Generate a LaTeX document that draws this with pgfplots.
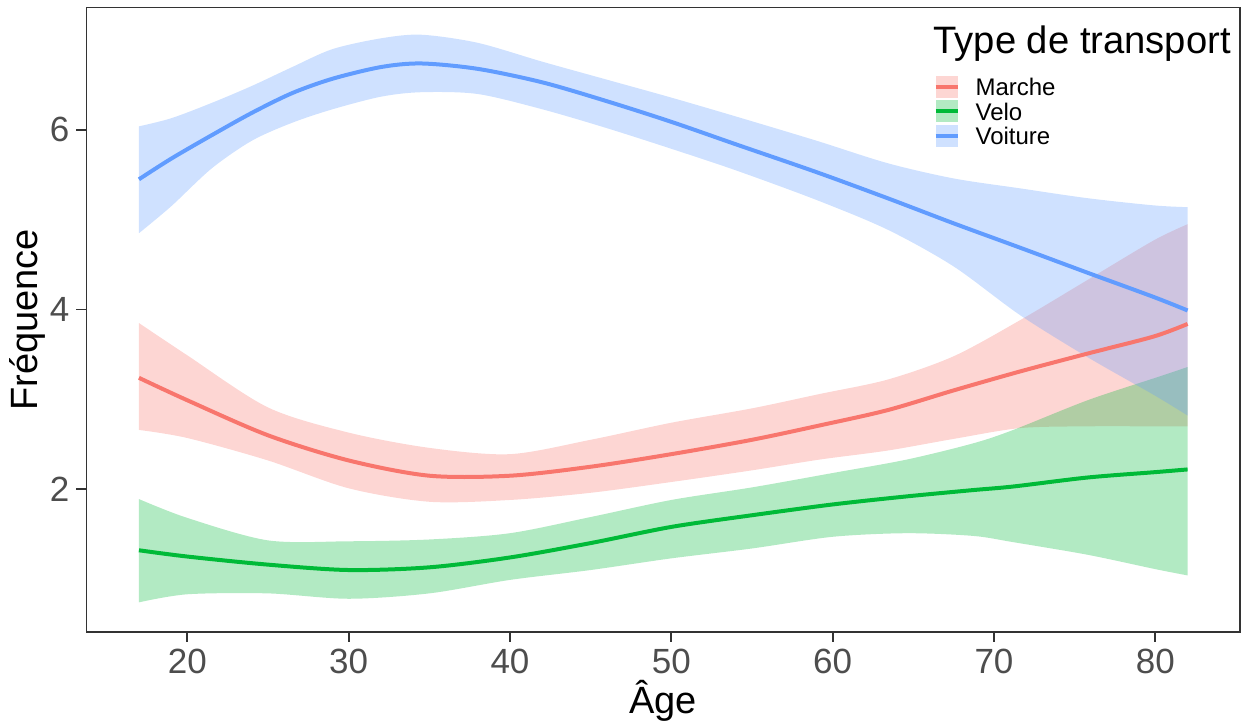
\documentclass[border=0pt]{standalone}
\usepackage{fontspec}
\setmainfont{Liberation Sans}
\usepackage{pgfplots}
\usepackage{pgfplotstable}
\pgfplotsset{compat=1.18}
\usepgfplotslibrary{fillbetween}

\definecolor{cMarche}{HTML}{F8766D}
\definecolor{cVelo}{HTML}{00BA38}
\definecolor{cVoiture}{HTML}{619CFF}
\definecolor{gtick}{HTML}{4D4D4D}
\definecolor{gline}{HTML}{333333}

% loess fits: age, fit, lower, upper
\pgfplotstableread{
age fit lo hi
17 3.24 2.66 3.85
20 2.99 2.57 3.49
25 2.60 2.32 2.91
30 2.32 2.01 2.63
35 2.15 1.86 2.46
40 2.15 1.88 2.39
45 2.25 1.96 2.55
50 2.39 2.08 2.74
55 2.55 2.21 2.90
59.2 2.71 2.33 3.06
63.4 2.88 2.43 3.22
67.5 3.10 2.56 3.48
71.6 3.31 2.68 3.88
75.8 3.51 2.70 4.33
79.9 3.70 2.70 4.77
82 3.84 2.70 4.95
}\marche

\pgfplotstableread{
age fit lo hi
17 1.32 0.74 1.89
20 1.25 0.83 1.68
25 1.16 0.84 1.43
30 1.10 0.78 1.42
35 1.13 0.84 1.44
40 1.24 0.99 1.51
45 1.40 1.10 1.69
50 1.58 1.23 1.88
55 1.71 1.34 2.02
60 1.83 1.47 2.18
64.6 1.92 1.51 2.33
68.7 1.99 1.48 2.51
71.2 2.03 1.41 2.66
75.8 2.13 1.27 2.99
80 2.19 1.11 3.24
82 2.22 1.04 3.36
}\velo

\pgfplotstableread{
age fit lo hi
17 5.45 4.85 6.04
19 5.68 5.15 6.13
21.5 5.94 5.57 6.30
24 6.19 5.88 6.49
26.5 6.41 6.08 6.70
29 6.57 6.23 6.90
32 6.70 6.37 7.02
34.5 6.74 6.42 7.06
38 6.68 6.40 6.97
42 6.53 6.23 6.76
46 6.32 6.02 6.56
50 6.09 5.79 6.36
54 5.84 5.55 6.15
59 5.53 5.22 5.88
63.4 5.24 4.89 5.63
67.5 4.96 4.48 5.46
71.6 4.69 3.94 5.35
75.8 4.41 3.47 5.24
79.9 4.14 3.05 5.16
82 3.99 2.82 5.14
}\voiture

\begin{document}
\begin{tikzpicture}
\begin{axis}[
    at={(0,0)}, anchor=south west,
    scale only axis,
    width=576.75pt, height=312.1pt,
    xmin=13.75, xmax=85.25,
    ymin=0.41, ymax=7.36,
    xtick={20,30,40,50,60,70,80},
    ytick={2,4,6},
    tick pos=left,
    tick align=outside,
    major tick length=5pt,
    axis line style={gline, line width=0.6pt},
    every tick/.style={gline, line width=0.9pt},
    /pgf/number format/assume math mode=true,
    ticklabel style={font=\fontsize{17.5}{20}\selectfont, text=gtick},
    xlabel={Âge},
    ylabel={Fréquence},
    label style={font=\fontsize{19}{22}\selectfont},
    xlabel style={at={(axis description cs:0.5,-0.1298)}, anchor=base},
    ylabel style={at={(axis description cs:-0.0511,0.5)}, anchor=center},
    legend style={at={(rel axis cs:0.734,0.892)}, anchor=north west,
        draw=none, fill=none, inner sep=0pt, row sep=1pt, column sep=8pt,
        font=\fontsize{12}{14}\selectfont, nodes={inner sep=0pt}},
    legend cell align=left,
]
% Marche
\addplot[draw=none, name path=mU, forget plot, smooth] table[x=age, y=hi] {\marche};
\addplot[draw=none, name path=mL, forget plot, smooth] table[x=age, y=lo] {\marche};
\addplot[fill=cMarche, fill opacity=0.3, draw=none, forget plot] fill between[of=mU and mL];
\addplot[cMarche, line width=2pt, smooth, forget plot] table[x=age, y=fit] {\marche};
% Velo
\addplot[draw=none, name path=vU, forget plot, smooth] table[x=age, y=hi] {\velo};
\addplot[draw=none, name path=vL, forget plot, smooth] table[x=age, y=lo] {\velo};
\addplot[fill=cVelo, fill opacity=0.3, draw=none, forget plot] fill between[of=vU and vL];
\addplot[cVelo, line width=2pt, smooth, forget plot] table[x=age, y=fit] {\velo};
% Voiture
\addplot[draw=none, name path=cU, forget plot, smooth] table[x=age, y=hi] {\voiture};
\addplot[draw=none, name path=cL, forget plot, smooth] table[x=age, y=lo] {\voiture};
\addplot[fill=cVoiture, fill opacity=0.3, draw=none, forget plot] fill between[of=cU and cL];
\addplot[cVoiture, line width=2pt, smooth, forget plot] table[x=age, y=fit] {\voiture};

\addlegendimage{legend image code/.code={
    \fill[cMarche, fill opacity=0.3, draw=none] (0pt,-4.7pt) rectangle (11pt,6.3pt);
    \draw[cMarche, line width=2pt] (0pt,0.8pt) -- (11pt,0.8pt);}}
\addlegendentry{Marche}
\addlegendimage{legend image code/.code={
    \fill[cVelo, fill opacity=0.3, draw=none] (0pt,-4.7pt) rectangle (11pt,6.3pt);
    \draw[cVelo, line width=2pt] (0pt,0.8pt) -- (11pt,0.8pt);}}
\addlegendentry{Velo}
\addlegendimage{legend image code/.code={
    \fill[cVoiture, fill opacity=0.3, draw=none] (0pt,-4.7pt) rectangle (11pt,6.3pt);
    \draw[cVoiture, line width=2pt] (0pt,0.8pt) -- (11pt,0.8pt);}}
\addlegendentry{Voiture}

\node[anchor=base west, inner sep=0pt, font=\fontsize{19.1}{22}\selectfont]
    at (rel axis cs:0.734,0.927) {Type de transport};
\end{axis}
\pgfresetboundingbox
\path[use as bounding box] (-43.25pt,-44.5pt) rectangle (579.25pt,316pt);
\end{tikzpicture}
\end{document}
